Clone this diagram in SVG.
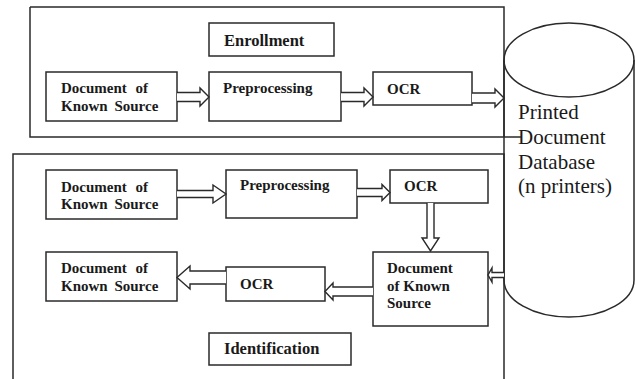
<svg xmlns="http://www.w3.org/2000/svg" width="635" height="379" viewBox="0 0 635 379">
<style>
.frame{fill:none;stroke:#2a2a2a;stroke-width:1.5}
.box{fill:#fff;stroke:#2a2a2a;stroke-width:1.5}
.cyl{fill:none;stroke:#2a2a2a;stroke-width:1.5}
text{font-family:"Liberation Serif",Tinos,"Times New Roman",Times,"Nimbus Roman","Noto Serif","FreeSerif","DejaVu Serif",serif}
.lbl{font-weight:bold;font-size:15px;fill:#1a1a1a}
.ttl{font-weight:bold;font-size:16.5px;fill:#1a1a1a}
.db{font-size:21px;fill:#1a1a1a}
.arr{fill:#fff;stroke:#2a2a2a;stroke-width:1.4;stroke-linejoin:miter}
</style>
<rect width="635" height="379" fill="#fff"/>
<g id="database">
<path class="cyl" d="M504 60 V280 A65 37 0 0 0 634 280 V60"/>
<ellipse class="cyl" cx="569" cy="60" rx="65" ry="37"/>
<text class="db" x="518" y="119">Printed</text>
<text class="db" x="518" y="144">Document</text>
<text class="db" x="518" y="169">Database</text>
<text class="db" x="518" y="193">(n printers)</text>
</g>
<g id="enrollment-frame">
<path class="frame" d="M30 7 H504 V137 M30 7 V137 H521"/>
</g>
<g id="identification-frame">
<path class="frame" d="M13 379 V154 H504 V379"/>
</g>
<g id="enroll-title">
<rect class="box" x="209" y="23" width="125" height="33"/>
<text class="ttl" x="224" y="46">Enrollment</text>
</g>
<g id="enroll-doc">
<rect class="box" x="46" y="72" width="131" height="49"/>
<text class="lbl" x="61" y="93" word-spacing="5">Document of</text>
<text class="lbl" x="61" y="111" word-spacing="3">Known Source</text>
</g>
<g id="enroll-pre">
<rect class="box" x="209" y="72" width="132" height="49"/>
<text class="lbl" x="223" y="93">Preprocessing</text>
</g>
<g id="enroll-ocr">
<rect class="box" x="373" y="72" width="99" height="33"/>
<text class="lbl" x="387" y="94">OCR</text>
</g>
<g id="ident-doc1">
<rect class="box" x="46" y="170" width="131" height="49"/>
<text class="lbl" x="61" y="192" word-spacing="5">Document of</text>
<text class="lbl" x="61" y="209" word-spacing="3">Known Source</text>
</g>
<g id="ident-pre">
<rect class="box" x="226" y="170" width="131" height="48"/>
<text class="lbl" x="240" y="190">Preprocessing</text>
</g>
<g id="ident-ocr1">
<rect class="box" x="390" y="170" width="98" height="33"/>
<text class="lbl" x="404" y="191">OCR</text>
</g>
<g id="ident-doc3">
<rect class="box" x="373" y="252" width="115" height="74"/>
<text class="lbl" x="387" y="273">Document</text>
<text class="lbl" x="387" y="291">of Known</text>
<text class="lbl" x="387" y="308">Source</text>
</g>
<g id="ident-ocr2">
<rect class="box" x="226" y="267" width="99" height="34"/>
<text class="lbl" x="240" y="289">OCR</text>
</g>
<g id="ident-doc4">
<rect class="box" x="46" y="252" width="131" height="49"/>
<text class="lbl" x="61" y="273" word-spacing="5">Document of</text>
<text class="lbl" x="61" y="291" word-spacing="3">Known Source</text>
</g>
<g id="ident-title">
<rect class="box" x="209" y="333" width="142" height="32"/>
<text class="ttl" x="224" y="354">Identification</text>
</g>
<g id="connectors">
<path class="arr" d="M177 92.5 H200 V88 L209 97 L200 106 V101.5 H177"/>
<path class="arr" d="M341 92.5 H364 V88 L373 97 L364 106 V101.5 H341"/>
<path class="arr" d="M472 93 H495 V89 L504 98 L495 107 V103 H472"/>
<path class="arr" d="M177 190.5 H213 V185 L226 194 L213 203 V197.5 H177"/>
<path class="arr" d="M357 188.5 H382 V184.5 L390 192.5 L382 200.5 V196.5 H357"/>
<path class="arr" d="M427 203 V238 H422 L430.5 251 L439 238 H434 V203"/>
<path class="arr" d="M504 272.5 H492 V268 L488 275 L492 282 V277.5 H504"/>
<path class="arr" d="M373 287 H333 V283 L325 291.5 L333 300 V296 H373"/>
<path class="arr" d="M226 271 H190 V266 L177 277.5 L190 289 V284 H226"/>
</g>
</svg>
